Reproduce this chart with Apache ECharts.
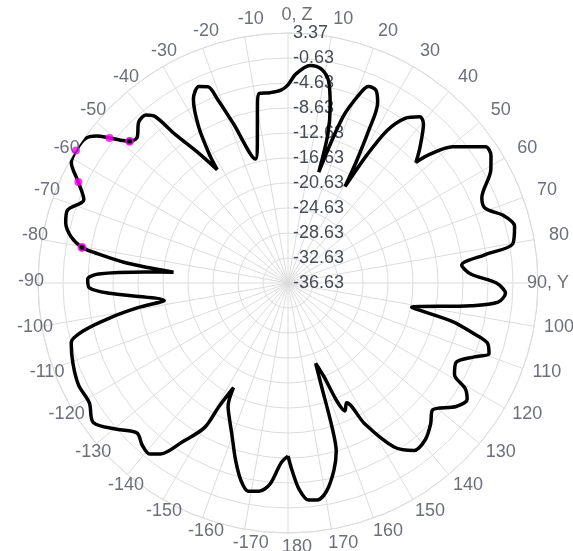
<!DOCTYPE html>
<html>
<head>
<meta charset="utf-8">
<script src="https://cdn.jsdelivr.net/npm/echarts@6/dist/echarts.min.js"></script>
<style>
  html, body { margin: 0; padding: 0; background: #fff; }
  #chart { width: 573px; height: 551px; }
</style>
</head>
<body>
<div id="chart"></div>
<script>
// angle (deg, clockwise from Z) and gain (dB)
const angles = [
  -180, -177.8, -174.9, -172.1, -169.2, -166.6, -163.4, -159.7, -156.3, -154.1,
  -152.5, -150.8, -150, -146.4, -143.3, -141, -138, -134.8, -130.5, -125.6,
  -121.1, -116, -110.6, -105.4, -103.1, -101.1, -99.3, -98, -93.3, -91.4,
  -88.9, -87.3, -85.6, -84.6, -83, -81.1, -80.2, -78, -74.8, -71.7,
  -67.8, -64.3, -60.9, -58, -54.6, -52.5, -50.9, -48.2, -46.1, -42.8,
  -40.2, -38.6, -37.2, -34.7, -32, -31.5, -29.8, -27.2, -24.4, -22.2,
  -21, -18.9, -14.7, -12.2, -9.8, -8.7, -5.4, -2.1, 0, 2.1,
  5.8, 8.8, 11.4, 13.4, 15, 15.5, 18.3, 21, 22.3, 24.5,
  26.4, 27.9, 29.4, 30.6, 31.6, 33, 35.4, 38.4, 40.4, 44.4,
  46.7, 47.5, 50.4, 55.4, 57.9, 60.8, 66.3, 69.3, 72.6, 75.9,
  80.1, 81.8, 84.1, 87.2, 90, 92.7, 95.2, 97.1, 101.1, 103.2,
  105.3, 106.7, 109.3, 111.6, 115.2, 118.8, 120.8, 123, 126.3, 131.3,
  134.7, 138.8, 143, 147.1, 151.4, 153.9, 156, 157.5, 159, 161,
  162, 163, 164, 166.2, 169.5, 172.3, 174.6, 176.9, 178.8, 180
];
const gains = [
  -8.95, -7.83, -4.34, -3.00, -2.71, -4.15, -7.19, -10.76, -13.22, -14.68,
  -17.75, -14.01, -9.91, -6.13, -2.52, -1.43, -1.75, -2.58, -0.60, 1.69,
  0.49, 0.65, 0.12, -0.65, -3.11, -7.53, -12.42, -16.63, -8.02, -4.84,
  -4.57, -6.28, -13.85, -18.23, -10.79, -5.35, -3.19, -1.16, 0.23, 0.52,
  -1.35, 0.59, 3.05, 3.37, 3.2, 1.98, 0.17, -2.63, -3.09, -1.49,
  -1.43, -2.55, -6.77, -11.11, -15.24, -12.71, -7.91, -3.51, -2.12, -2.71,
  -5.08, -9.70, -16.12, -13.43, -7.89, -5.97, -6.04, -5.75, -4.92, -3.19,
  -1.64, -1.96, -3.72, -7.51, -11.99, -18.23, -8.63, -3.88, -2.66, -2.71,
  -4.37, -9.06, -14.50, -18.71, -12.79, -7.57, -4.31, -2.68, -3.19, -6.50,
  -8.50, -6.45, -2.42, 1.77, 1.71, 0.55, -2.76, -2.87, -0.49, 0.75,
  -0.12, -4.71, -8.69, -7.35, -3.29, -1.80, -2.87, -7.16, -16.47, -9.59,
  -5.70, -3.35, -2.55, -4.53, -6.87, -6.23, -3.61, -2.45, -3.25, -5.86,
  -4.53, -3.29, -3.08, -5.37, -10.92, -15.29, -14.23, -16.15, -20.63, -23.03,
  -19.35, -12.63, -8.63, -5.81, -2.76, -1.59, -1.75, -3.56, -6.71, -8.95
];

// highlighted sample points (magenta)
const dotAngles = [-64.3, -58, -50.9];
const dotGains = [0.59, 3.37, 0.17];
const ringAngles = [-80.2, -48.2];
const ringGains = [-3.19, -2.63];

// angle tick labels, every 10 degrees
const tickAngles = [
  0, 10, 20, 30, 40, 50, 60, 70, 80, 90, 100, 110, 120, 130, 140, 150, 160, 170, 180,
  -170, -160, -150, -140, -130, -120, -110, -100, -90, -80, -70, -60, -50, -40, -30, -20, -10
];
const tickLabels = [
  "0, Z", "10", "20", "30", "40", "50", "60", "70", "80", "90, Y", "100", "110", "120", "130", "140", "150", "160", "170", "180",
  "-170", "-160", "-150", "-140", "-130", "-120", "-110", "-100", "-90", "-80", "-70", "-60", "-50", "-40", "-30", "-20", "-10"
];

const rMin = -36.63;
const rMax = 3.37;
// tick labels sit a little outside the outer ring
const labelRing = rMin + (rMax - rMin) * 1.064;

const chart = echarts.init(document.getElementById("chart"));

// the angle axis runs 0..360 clockwise from the top so the radius labels stay on the Z side
const wrap = (a) => (a < 0 ? a + 360 : a);
const pairs = (rs, as) => rs.map((r, i) => [r, wrap(as[i])]);

const labelColor = "#474b58";

const option = {
  animation: false,
  textStyle: { fontFamily: "Liberation Sans, Arial, sans-serif" },
  polar: {
    center: [288, 283],
    radius: 250,
  },
  angleAxis: {
    type: "value",
    min: 0,
    max: 360,
    interval: 10,
    startAngle: 90,
    clockwise: true,
    axisLine: { show: true, lineStyle: { color: "#dcdcdc", width: 1 } },
    axisTick: { show: false },
    axisLabel: { show: false },
    splitLine: { show: true, lineStyle: { color: "#dcdcdc", width: 1 } },
  },
  radiusAxis: {
    type: "value",
    min: rMin,
    max: rMax,
    interval: 4,
    axisLine: { show: false },
    axisTick: { show: false },
    splitLine: { show: true, lineStyle: { color: "#dcdcdc", width: 1 } },
    axisLabel: {
      fontSize: 18,
      color: labelColor,
      align: "left",
      margin: -5,
      formatter: (v) => v.toFixed(2),
    },
  },
  series: [
    {
      type: "line",
      coordinateSystem: "polar",
      data: pairs(gains, angles),
      smooth: 0.3,
      showSymbol: false,
      lineStyle: { color: "#000", width: 3.5 },
      z: 3,
    },
    {
      type: "scatter",
      coordinateSystem: "polar",
      data: pairs(dotGains, dotAngles),
      symbolSize: 8,
      itemStyle: { color: "#ff00ff" },
      z: 4,
    },
    {
      type: "scatter",
      coordinateSystem: "polar",
      data: pairs(ringGains, ringAngles),
      symbolSize: 7,
      itemStyle: { color: "#000", borderColor: "#ff00ff", borderWidth: 2 },
      z: 4,
    },
    {
      // angle tick labels
      type: "scatter",
      coordinateSystem: "polar",
      silent: true,
      clip: false,
      symbolSize: 2,
      itemStyle: { color: "rgba(0,0,0,0)" },
      data: tickAngles.map((a, i) => ({
        value: [labelRing, wrap(a)],
        name: tickLabels[i],
        label: a === 90 ? { position: [-5, 1] } : undefined,
      })),
      label: {
        show: true,
        position: [10, -1],
        align: "center",
        verticalAlign: "middle",
        fontSize: 18,
        color: labelColor,
        formatter: (p) => p.name,
      },
      labelLayout: { hideOverlap: false },
      z: 5,
    },
  ],
};

chart.setOption(option);
</script>
</body>
</html>
